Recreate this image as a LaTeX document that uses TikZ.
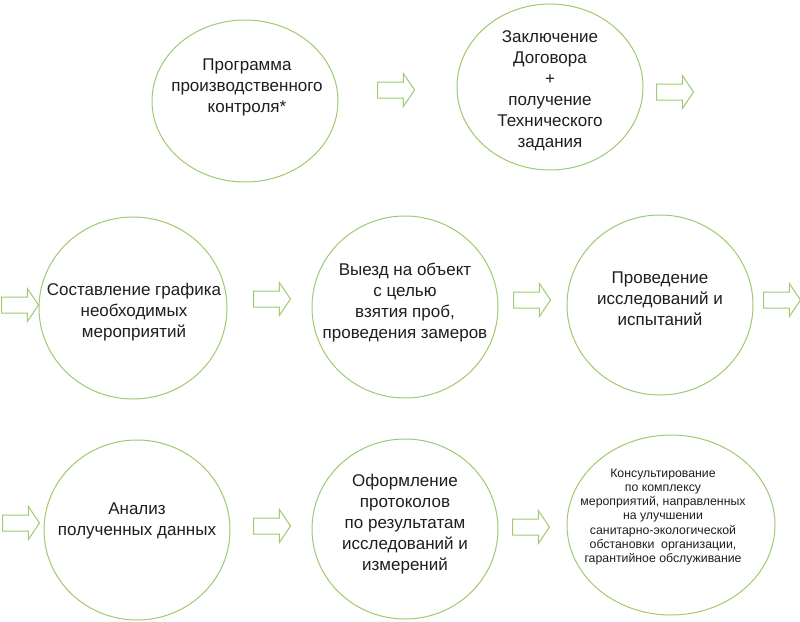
\documentclass[tikz,border=0pt]{standalone}
\usepackage{fontspec}
\setmainfont{Liberation Sans}
\usetikzlibrary{shapes.geometric,shapes.arrows}
\definecolor{lgreen}{RGB}{158,202,112}
\definecolor{txt}{RGB}{30,30,30}
\tikzset{
  x=1pt, y=-1pt,
  stepcircle/.style={draw=lgreen, line width=1pt, ellipse, inner sep=0pt, fill=white},
  steptext/.style={align=center, text=txt, font=\fontsize{17}{21}\selectfont, inner sep=0pt},
  smalltext/.style={align=center, text=txt, font=\fontsize{12.3}{14.3}\selectfont, inner sep=0pt},
  blockarrow/.style={single arrow, draw=lgreen, line width=1pt, inner sep=7.5pt,
     single arrow head extend=8.5pt, single arrow tip angle=112, minimum height=37pt, anchor=tail}
}
\begin{document}
\begin{tikzpicture}
\useasboundingbox[fill=white] (0,0) rectangle (800,621);
% circles
\node[stepcircle, minimum width=186pt, minimum height=162pt] (c1) at (245,101) {};
\node[stepcircle, minimum width=186pt, minimum height=166pt] (c2) at (550,87) {};
\node[stepcircle, minimum width=188pt, minimum height=182pt] (c4) at (133,308) {};
\node[stepcircle, minimum width=186pt, minimum height=182pt] (c5) at (405,307) {};
\node[stepcircle, minimum width=186pt, minimum height=180pt] (c6) at (660,305) {};
\node[stepcircle, minimum width=186pt, minimum height=180pt] (c7) at (137,530) {};
\node[stepcircle, minimum width=186pt, minimum height=180pt] (c8) at (405,529) {};
\node[stepcircle, minimum width=208pt, minimum height=180pt] (c9) at (671,525) {};
% texts
\node[steptext] (t1) at (247,87) {Программа\\производственного\\контроля*};
\node[steptext] (t2) at (550,91) {Заключение\\Договора\\+\\получение\\Технического\\задания};
\node[steptext] (t4) at (134,312) {Составление графика\\необходимых\\мероприятий};
\node[steptext] (t5) at (405,303) {Выезд на объект\\с целью\\взятия проб,\\проведения замеров};
\node[steptext] (t6) at (660,299) {Проведение\\исследований и\\испытаний};
\node[steptext] (t7) at (137,521) {Анализ\\полученных данных};
\node[steptext] (t8) at (405,524) {Оформление\\протоколов\\по результатам\\исследований и\\измерений};
\node[smalltext] (t9) at (663,517) {Консультирование\\по комплексу\\мероприятий, направленных\\на улучшении\\санитарно-экологической\\обстановки\ \ организации,\\гарантийное обслуживание};
% arrows
\node[blockarrow] (a1) at (377,90) {};
\node[blockarrow] (a2) at (656,92) {};
\node[blockarrow] (a3) at (1,305) {};
\node[blockarrow] (a4) at (253,299) {};
\node[blockarrow] (a5) at (513,300) {};
\node[blockarrow] (a6) at (763,300) {};
\node[blockarrow] (a7) at (2,523) {};
\node[blockarrow] (a8) at (253,526) {};
\node[blockarrow] (a9) at (512,527) {};
\end{tikzpicture}
\end{document}
